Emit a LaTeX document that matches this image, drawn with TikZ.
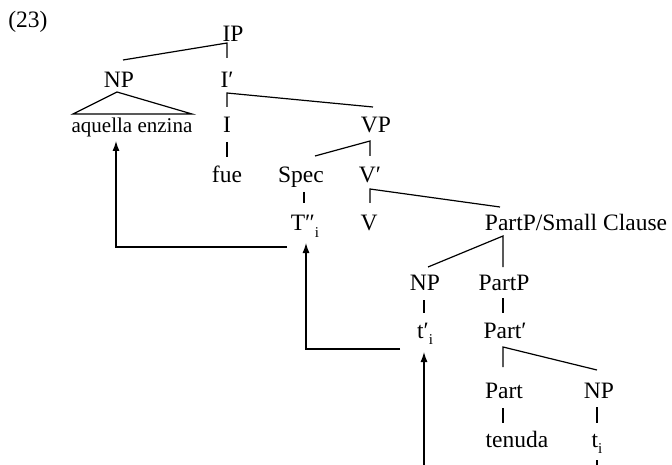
\documentclass[tikz,border=0pt]{standalone}
\usepackage{fontspec}
\setmainfont{Liberation Serif}
\usetikzlibrary{arrows.meta}
\newcommand{\mysub}[1]{\raisebox{-0.28em}{\fontsize{15}{15}\selectfont #1}}
\begin{document}
\begin{tikzpicture}[x=1pt,y=-1pt,
  lab/.style={anchor=base,inner sep=0pt,font=\fontsize{23.5}{27}\selectfont},
  br/.style={line width=1.2pt},
  arr/.style={line width=1.2pt,-{Latex[length=10pt,width=7pt]}}]
\useasboundingbox (0,0) rectangle (672,465);
% labels
\node[lab] (ex) at (28,28) {(23)};
\node[lab] (ip) at (233,42) {IP};
\node[lab] (np1) at (119,88) {NP};
\node[lab] (ibar) at (227,88) {I′};
\node[lab,font=\fontsize{21}{25}\selectfont] (aq) at (132,133) {aquella enzina};
\node[lab] (i) at (227,133) {I};
\node[lab] (vp) at (376,133) {VP};
\node[lab] (fue) at (227,183) {fue};
\node[lab] (spec) at (301,183) {Spec};
\node[lab] (vbar) at (370,183) {V′};
\node[lab] (tpp) at (305,231) {T″\mysub{i}};
\node[lab] (v) at (369,231) {V};
\node[lab] (sc) at (576,231) {PartP/Small Clause};
\node[lab] (np2) at (425,290) {NP};
\node[lab] (partp) at (504,290) {PartP};
\node[lab] (tp) at (425,338) {t′\mysub{i}};
\node[lab] (partbar) at (505,338) {Part′};
\node[lab] (part) at (504,398) {Part};
\node[lab] (np3) at (599,398) {NP};
\node[lab] (tenuda) at (517,447) {tenuda};
\node[lab] (t) at (597,447) {t\mysub{i}};
% branch points
\coordinate (ipA) at (227,43);
\coordinate (np1T) at (123,60);
\coordinate (ibarT) at (227,58);
\coordinate (triA) at (117,92);
\coordinate (triL) at (73,114);
\coordinate (triR) at (192,114);
\coordinate (ibarA) at (227,93);
\coordinate (iT) at (227,107);
\coordinate (vpT) at (373,107);
\coordinate (iB) at (227,142);
\coordinate (fueT) at (227,157);
\coordinate (vpA) at (370,141);
\coordinate (specT) at (315,156);
\coordinate (vbarT) at (370,156);
\coordinate (specB) at (304,192);
\coordinate (tppT) at (304,203);
\coordinate (vbarA) at (370,189);
\coordinate (vT) at (370,203);
\coordinate (scT) at (500,207);
\coordinate (scA) at (503,236);
\coordinate (partpT) at (503,267);
\coordinate (np2T) at (428,267);
\coordinate (np2B) at (424,300);
\coordinate (tpT) at (424,313);
\coordinate (partpB) at (503,298);
\coordinate (partbarT) at (503,313);
\coordinate (partbarA) at (503,347);
\coordinate (partT) at (503,367);
\coordinate (np3T) at (597,370);
\coordinate (partB) at (503,408);
\coordinate (tenudaT) at (503,423);
\coordinate (np3B) at (597,407);
\coordinate (tT) at (597,423);
\coordinate (tB) at (597,460);
\coordinate (tBot) at (597,465);
% tree
\draw[br] (np1T) -- (ipA) -- (ibarT);
\draw[br] (triL) -- (triA) -- (triR) -- cycle;
\draw[br] (iT) -- (ibarA) -- (vpT);
\draw[br] (iB) -- (fueT);
\draw[br] (specT) -- (vpA) -- (vbarT);
\draw[br] (specB) -- (tppT);
\draw[br] (vT) -- (vbarA) -- (scT);
\draw[br] (np2T) -- (scA) -- (partpT);
\draw[br] (np2B) -- (tpT);
\draw[br] (partpB) -- (partbarT);
\draw[br] (partT) -- (partbarA) -- (np3T);
\draw[br] (partB) -- (tenudaT);
\draw[br] (np3B) -- (tT);
\draw[br] (tB) -- (tBot);
% movement arrows
\coordinate (m1s) at (287,247);
\coordinate (m1c) at (116,247);
\coordinate (m1e) at (116,141);
\coordinate (m2s) at (400,349);
\coordinate (m2c) at (306,349);
\coordinate (m2e) at (306,243);
\coordinate (m3s) at (424,465);
\coordinate (m3e) at (424,352);
\draw[arr] (m1s) -- (m1c) -- (m1e);
\draw[arr] (m2s) -- (m2c) -- (m2e);
\draw[arr] (m3s) -- (m3e);
\end{tikzpicture}
\end{document}
